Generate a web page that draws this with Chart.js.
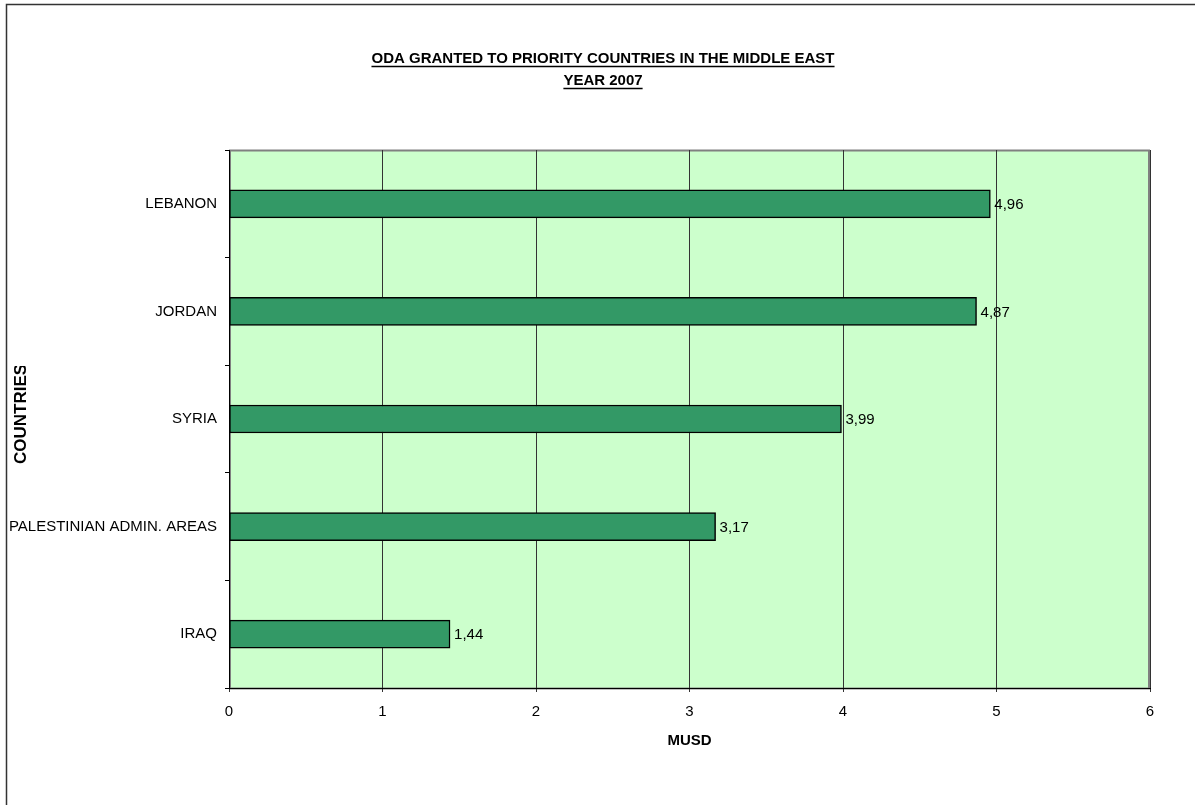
<!DOCTYPE html>
<html>
<head>
<meta charset="utf-8">
<title>ODA granted to priority countries in the Middle East</title>
<script src="https://cdn.jsdelivr.net/npm/chart.js@4.4.1/dist/chart.umd.min.js"></script>
<style>
    html, body { margin: 0; padding: 0; background: #ffffff; }
    #wrap { width: 1195px; height: 805px; }
</style>
</head>
<body>
<div id="wrap"><canvas id="odaChart" width="1195" height="805"></canvas></div>
<script>
// Data
const countries = ['LEBANON', 'JORDAN', 'SYRIA', 'PALESTINIAN ADMIN. AREAS', 'IRAQ'];
const odaMusd = [4.96, 4.87, 3.99, 3.17, 1.44];
const xTicks = [0, 1, 2, 3, 4, 5, 6];

const titleLines = ['ODA GRANTED TO PRIORITY COUNTRIES IN THE MIDDLE EAST', 'YEAR 2007'];
const xTitle = 'MUSD';
const yTitle = 'COUNTRIES';

const FONT = '"Liberation Sans", Arial, sans-serif';
const FONT_SIZE = 15;

/**
 * Page frame, plot background, titles and value labels
 */
const decorPlugin = {
    id: 'decor',
    beforeDraw(chart) {
        const ctx = chart.ctx;
        const a = chart.chartArea;
        ctx.save();
        ctx.fillStyle = '#ffffff';
        ctx.fillRect(0, 0, chart.width, chart.height);

        // outer frame (runs off the right and bottom edges)
        ctx.strokeStyle = '#333333';
        ctx.lineWidth = 1.5;
        ctx.strokeRect(6.5, 4.5, chart.width + 50, chart.height + 50);

        // plot area
        ctx.fillStyle = '#CCFFCC';
        ctx.fillRect(a.left, a.top, a.right - a.left, a.bottom - a.top);
        ctx.strokeStyle = '#808080';
        ctx.lineWidth = 2;
        ctx.strokeRect(a.left + 1, a.top + 0.5, a.right - a.left - 2, a.bottom - a.top);
        ctx.restore();
    },
    afterDraw(chart) {
        const ctx = chart.ctx;
        const a = chart.chartArea;
        ctx.save();
        ctx.fillStyle = '#000000';
        ctx.strokeStyle = '#000000';

        // underlined title
        ctx.font = 'bold ' + FONT_SIZE + 'px ' + FONT;
        ctx.textAlign = 'center';
        ctx.textBaseline = 'alphabetic';
        const cx = 603;
        const baselines = [63, 85];
        titleLines.forEach((line, i) => {
            ctx.fillText(line, cx, baselines[i]);
            const w = ctx.measureText(line).width;
            ctx.lineWidth = 1.5;
            ctx.beginPath();
            ctx.moveTo(cx - w / 2, baselines[i] + 3.5);
            ctx.lineTo(cx + w / 2, baselines[i] + 3.5);
            ctx.stroke();
        });

        // axis titles
        ctx.textBaseline = 'middle';
        ctx.fillText(xTitle, (a.left + a.right) / 2, 741);

        // vertical title is cut off at the top like the source sheet
        ctx.save();
        ctx.beginPath();
        ctx.rect(0, 366, 60, 200);
        ctx.clip();
        ctx.font = 'bold 17px ' + FONT;
        ctx.translate(21, 464);
        ctx.rotate(-Math.PI / 2);
        ctx.textAlign = 'left';
        ctx.fillText(yTitle, 0, 0);
        ctx.restore();
        ctx.restore();

        // value labels at bar ends
        ctx.save();
        ctx.font = FONT_SIZE + 'px ' + FONT;
        ctx.fillStyle = '#000000';
        ctx.textAlign = 'left';
        ctx.textBaseline = 'middle';
        const meta = chart.getDatasetMeta(0);
        meta.data.forEach((bar, i) => {
            const label = odaMusd[i].toFixed(2).replace('.', ',');
            ctx.fillText(label, bar.x + 4, bar.y + 1);
        });
        ctx.restore();
    }
};

new Chart(document.getElementById('odaChart'), {
    type: 'bar',
    data: {
        labels: countries,
        datasets: [{
            label: 'ODA (MUSD)',
            data: odaMusd,
            backgroundColor: '#339966',
            borderColor: '#000000',
            borderWidth: 1.5,
            borderSkipped: false,
            barThickness: 28
        }]
    },
    options: {
        indexAxis: 'y',
        responsive: false,
        animation: false,
        layout: {
            padding: { left: 0, right: 45, top: 150, bottom: 0 }
        },
        plugins: {
            legend: { display: false },
            title: { display: false },
            tooltip: { enabled: false }
        },
        scales: {
            x: {
                min: xTicks[0],
                max: xTicks[xTicks.length - 1],
                afterBuildTicks(scale) {
                    scale.ticks = xTicks.map(v => ({ value: v }));
                },
                afterFit(scale) {
                    scale.height = 117;
                },
                grid: {
                    color: '#333333',
                    lineWidth: 1,
                    tickLength: 4,
                    drawOnChartArea: true
                },
                border: { color: '#000000', width: 1 },
                ticks: {
                    color: '#000000',
                    font: { family: FONT, size: FONT_SIZE },
                    padding: 11
                }
            },
            y: {
                afterFit(scale) {
                    scale.width = 229;
                },
                grid: {
                    offset: true,
                    drawOnChartArea: false,
                    color: '#000000',
                    tickLength: 4
                },
                border: { color: '#000000', width: 1 },
                ticks: {
                    color: '#000000',
                    font: { family: FONT, size: FONT_SIZE },
                    padding: 8
                }
            }
        }
    },
    plugins: [decorPlugin]
});
</script>
</body>
</html>
